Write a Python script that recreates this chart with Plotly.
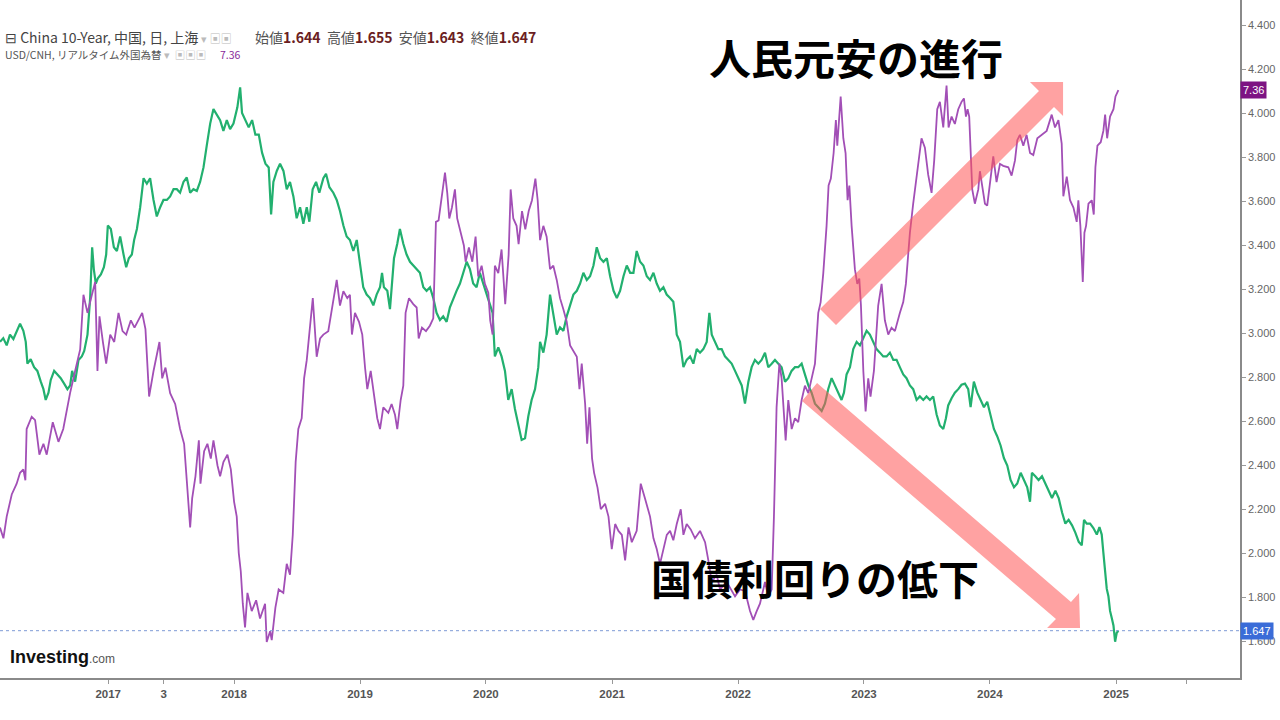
import plotly.graph_objects as go
import pandas as pd

# USD/CNH (purple, hidden scale) - time as decimal year
cnh_year = [
    2016.143, 2016.170, 2016.196, 2016.236, 2016.275, 2016.302, 2016.328, 2016.344, 2016.354, 2016.394,
    2016.421, 2016.455, 2016.487, 2016.513, 2016.561, 2016.606, 2016.644, 2016.698, 2016.738, 2016.778,
    2016.804, 2016.836, 2016.871, 2016.897, 2016.915, 2016.931, 2016.958, 2016.984, 2017.016, 2017.048,
    2017.082, 2017.114, 2017.143, 2017.180, 2017.209, 2017.241, 2017.270, 2017.296, 2017.325, 2017.360,
    2017.407, 2017.429, 2017.455, 2017.492, 2017.532, 2017.571, 2017.603, 2017.624, 2017.637, 2017.651,
    2017.667, 2017.693, 2017.720, 2017.733, 2017.762, 2017.788, 2017.815, 2017.836, 2017.868, 2017.889,
    2017.915, 2017.947, 2017.974, 2018.000, 2018.021, 2018.037, 2018.053, 2018.069, 2018.087, 2018.106,
    2018.140, 2018.175, 2018.206, 2018.246, 2018.259, 2018.286, 2018.299, 2018.328, 2018.354, 2018.391,
    2018.418, 2018.444, 2018.466, 2018.489, 2018.510, 2018.537, 2018.556, 2018.577, 2018.625, 2018.643,
    2018.656, 2018.683,
    2018.709, 2018.748, 2018.788, 2018.815, 2018.841, 2018.868, 2018.899, 2018.920, 2018.936, 2018.960,
    2018.992, 2019.018, 2019.040, 2019.058, 2019.085, 2019.111, 2019.137, 2019.159, 2019.185, 2019.225,
    2019.251, 2019.278, 2019.296, 2019.323, 2019.344, 2019.362, 2019.389, 2019.423, 2019.450, 2019.466,
    2019.492, 2019.524, 2019.555, 2019.582, 2019.603, 2019.624, 2019.648, 2019.675, 2019.693, 2019.709,
    2019.730, 2019.754, 2019.772, 2019.799, 2019.825, 2019.839, 2019.865, 2019.892, 2019.918, 2019.939,
    2019.966, 2019.992, 2020.019, 2020.034, 2020.053, 2020.071, 2020.098, 2020.124, 2020.153, 2020.180,
    2020.196, 2020.217, 2020.243, 2020.259, 2020.286, 2020.312, 2020.339, 2020.365, 2020.392, 2020.410,
    2020.429, 2020.455, 2020.481, 2020.508, 2020.534, 2020.561, 2020.587, 2020.614, 2020.640, 2020.667,
    2020.693, 2020.720, 2020.741, 2020.759, 2020.786, 2020.802, 2020.820, 2020.841, 2020.857, 2020.884,
    2020.910, 2020.944, 2020.971, 2020.997, 2021.024, 2021.050, 2021.077, 2021.103, 2021.130,
    2021.156, 2021.195, 2021.227, 2021.261, 2021.301, 2021.328, 2021.354, 2021.380, 2021.434, 2021.460,
    2021.486, 2021.513, 2021.545, 2021.566, 2021.592, 2021.624, 2021.658, 2021.698, 2021.738, 2021.764,
    2021.791, 2021.830, 2021.857, 2021.910, 2021.976, 2022.015, 2022.055, 2022.095, 2022.121, 2022.148,
    2022.174, 2022.214, 2022.240, 2022.267, 2022.285, 2022.306, 2022.328, 2022.346, 2022.359, 2022.378,
    2022.399, 2022.426, 2022.452, 2022.478, 2022.505, 2022.531, 2022.558, 2022.584, 2022.611, 2022.637,
    2022.656, 2022.677, 2022.703, 2022.719, 2022.737, 2022.759, 2022.777, 2022.788, 2022.804, 2022.815,
    2022.836, 2022.854, 2022.870, 2022.884, 2022.902, 2022.928, 2022.947, 2022.963, 2022.976, 2022.995,
    2023.013, 2023.034, 2023.052, 2023.079, 2023.113, 2023.140, 2023.166, 2023.193, 2023.219, 2023.246,
    2023.285, 2023.312, 2023.333, 2023.365, 2023.391, 2023.418, 2023.457, 2023.484, 2023.510, 2023.537,
    2023.558, 2023.582, 2023.603,
    2023.630, 2023.656, 2023.672, 2023.696, 2023.722, 2023.749, 2023.775, 2023.794, 2023.810, 2023.823,
    2023.836, 2023.847, 2023.860, 2023.881, 2023.908, 2023.921, 2023.939, 2023.961, 2023.979, 2024.000,
    2024.027, 2024.053, 2024.080, 2024.106, 2024.146, 2024.172, 2024.199, 2024.217, 2024.238, 2024.265,
    2024.291, 2024.318, 2024.344, 2024.376, 2024.410, 2024.450, 2024.490, 2024.516, 2024.543, 2024.556,
    2024.569, 2024.582, 2024.609, 2024.635, 2024.662, 2024.688, 2024.701, 2024.717, 2024.728, 2024.736,
    2024.749, 2024.762, 2024.781, 2024.807, 2024.823, 2024.836, 2024.852, 2024.878, 2024.899, 2024.913,
    2024.929, 2024.952, 2024.979, 2024.995, 2025.018,
]
cnh_rate = [
    6.471, 6.449, 6.493, 6.538, 6.560, 6.582, 6.589, 6.567, 6.671, 6.696,
    6.689, 6.619, 6.641, 6.619, 6.685, 6.645, 6.671, 6.744, 6.789, 6.833,
    6.944, 6.907, 6.944, 6.970, 6.789, 6.900, 6.848, 6.804, 6.863, 6.848,
    6.907, 6.870, 6.863, 6.892, 6.877, 6.892, 6.907, 6.874, 6.737, 6.789,
    6.848, 6.774, 6.796, 6.744, 6.722, 6.671, 6.641, 6.567, 6.523, 6.471,
    6.530, 6.575, 6.648, 6.560, 6.626, 6.641, 6.611, 6.648, 6.597, 6.575,
    6.604, 6.619, 6.589, 6.523, 6.493, 6.419, 6.382, 6.316, 6.268, 6.338,
    6.301, 6.323, 6.286, 6.316, 6.238, 6.260, 6.242, 6.308, 6.345, 6.338,
    6.397, 6.375, 6.456, 6.604, 6.671, 6.693, 6.774, 6.811, 6.937, 6.863,
    6.818, 6.855,
    6.863, 6.870, 6.937, 6.974, 6.922, 6.951, 6.937, 6.944, 6.863, 6.907,
    6.889, 6.863, 6.796, 6.752, 6.789, 6.737, 6.693, 6.671, 6.715, 6.704,
    6.722, 6.700, 6.671, 6.730, 6.759, 6.907, 6.937, 6.925, 6.918, 6.855,
    6.877, 6.870, 6.881, 6.896, 7.092, 7.095, 7.136, 7.192, 7.151, 7.099,
    7.121, 7.158, 7.099, 7.070, 7.044, 7.011, 7.040, 7.011, 7.062, 6.981,
    7.003, 6.966, 6.948, 6.892, 6.863, 7.003, 6.988, 7.036, 6.925, 7.025,
    7.158, 7.099, 7.084, 7.047, 7.114, 7.077, 7.114, 7.136, 7.180, 7.136,
    7.055, 7.084, 7.062, 6.996, 7.003, 6.974, 6.937, 6.914, 6.889, 6.841,
    6.829, 6.818, 6.752, 6.804, 6.722, 6.641, 6.715, 6.611, 6.582, 6.552,
    6.508, 6.519, 6.493, 6.427, 6.478, 6.464, 6.456, 6.404, 6.471,
    6.441, 6.464, 6.560, 6.530, 6.493, 6.449, 6.427, 6.397, 6.456, 6.464,
    6.445, 6.478, 6.508, 6.456, 6.478, 6.467, 6.449, 6.464, 6.441, 6.404,
    6.360, 6.375, 6.345, 6.360, 6.331, 6.345, 6.342, 6.301, 6.283, 6.301,
    6.316, 6.360, 6.331, 6.345, 6.493, 6.715, 6.804, 6.774, 6.730, 6.648,
    6.730, 6.671, 6.693, 6.685, 6.730, 6.759, 6.744, 6.774, 6.804, 6.907,
    6.929, 6.988, 7.084, 7.166, 7.180, 7.232, 7.299, 7.247, 7.321, 7.347,
    7.262, 7.232, 7.136, 7.166, 7.084, 6.996, 6.966, 6.977, 6.922, 6.789,
    6.707, 6.774, 6.737, 6.789, 6.922, 6.966, 6.892, 6.863, 6.877, 6.870,
    6.907, 6.929, 6.966, 7.070, 7.129, 7.188, 7.262, 7.243, 7.188, 7.151,
    7.217, 7.321, 7.336,
    7.284, 7.369, 7.284, 7.306, 7.291, 7.321, 7.336, 7.343, 7.306, 7.321,
    7.306, 7.232, 7.158, 7.129, 7.158, 7.195, 7.169, 7.129, 7.125, 7.173,
    7.225, 7.173, 7.210, 7.206, 7.203, 7.186, 7.217, 7.258, 7.269, 7.247,
    7.269, 7.232, 7.228, 7.262, 7.269, 7.277, 7.310, 7.284, 7.299, 7.277,
    7.251, 7.144, 7.184, 7.136, 7.121, 7.092, 7.136, 7.084, 6.996, 6.970,
    7.070, 7.084, 7.129, 7.136, 7.107, 7.203, 7.247, 7.254, 7.277, 7.310,
    7.262, 7.306, 7.321, 7.347, 7.360,
]

# China 10-Year yield (green, right scale)
cn10_year = [
    2016.143, 2016.169, 2016.196, 2016.222, 2016.249, 2016.275, 2016.302, 2016.328, 2016.347, 2016.360,
    2016.386, 2016.413, 2016.439, 2016.466, 2016.487, 2016.505, 2016.527, 2016.545, 2016.572, 2016.598,
    2016.624, 2016.651, 2016.677, 2016.699, 2016.714, 2016.738, 2016.765, 2016.791, 2016.810, 2016.836,
    2016.857, 2016.873, 2016.886, 2016.902, 2016.918, 2016.942, 2016.966, 2016.984, 2016.997, 2017.021,
    2017.045, 2017.069, 2017.095, 2017.122, 2017.143, 2017.164, 2017.188, 2017.206, 2017.228, 2017.254,
    2017.281, 2017.307, 2017.333, 2017.360, 2017.386, 2017.413, 2017.439, 2017.466, 2017.492, 2017.519,
    2017.545, 2017.571, 2017.598, 2017.624, 2017.651, 2017.677, 2017.704, 2017.730, 2017.757, 2017.783,
    2017.810, 2017.836, 2017.862, 2017.889, 2017.915, 2017.942, 2017.968, 2017.995, 2018.026, 2018.048,
    2018.063, 2018.090, 2018.116, 2018.143, 2018.169, 2018.196, 2018.222, 2018.249, 2018.275, 2018.294,
    2018.312, 2018.339, 2018.365, 2018.392, 2018.418, 2018.444, 2018.471, 2018.497, 2018.524, 2018.550,
    2018.577, 2018.598, 2018.624, 2018.651, 2018.677,
    2018.709, 2018.730, 2018.757, 2018.788, 2018.815, 2018.841, 2018.868, 2018.894, 2018.920, 2018.947,
    2018.974, 2019.000, 2019.026, 2019.053, 2019.079, 2019.106, 2019.132, 2019.159, 2019.175, 2019.190,
    2019.217, 2019.238, 2019.254, 2019.270, 2019.296, 2019.317, 2019.344, 2019.370, 2019.397, 2019.423,
    2019.450, 2019.476, 2019.503, 2019.529, 2019.556, 2019.582, 2019.608, 2019.635, 2019.661, 2019.688,
    2019.714, 2019.741, 2019.767, 2019.794, 2019.820, 2019.847, 2019.873, 2019.899, 2019.926, 2019.952,
    2019.979, 2020.005, 2020.032, 2020.053, 2020.071, 2020.098, 2020.124, 2020.151, 2020.177, 2020.204,
    2020.230, 2020.257, 2020.283, 2020.310, 2020.336, 2020.362, 2020.389, 2020.415, 2020.429, 2020.455,
    2020.481, 2020.508, 2020.534, 2020.561, 2020.587, 2020.614, 2020.640, 2020.667, 2020.693, 2020.720,
    2020.746, 2020.772, 2020.799, 2020.825, 2020.852, 2020.878, 2020.905, 2020.931, 2020.958, 2020.984,
    2021.011, 2021.037, 2021.063, 2021.090, 2021.116, 2021.143,
    2021.169, 2021.195, 2021.222, 2021.248, 2021.275, 2021.301, 2021.328, 2021.354, 2021.380, 2021.407,
    2021.433, 2021.460, 2021.486, 2021.500, 2021.513, 2021.539, 2021.566, 2021.592, 2021.619, 2021.645,
    2021.672, 2021.698, 2021.724, 2021.751, 2021.772, 2021.791, 2021.817, 2021.843, 2021.870, 2021.896,
    2021.923, 2021.949, 2021.976, 2022.002, 2022.029, 2022.055, 2022.082, 2022.108, 2022.134, 2022.161,
    2022.187, 2022.214, 2022.240, 2022.267, 2022.293, 2022.320, 2022.346, 2022.373, 2022.399, 2022.425,
    2022.452, 2022.478, 2022.505, 2022.531, 2022.558, 2022.584, 2022.611, 2022.637, 2022.664, 2022.690,
    2022.716, 2022.743, 2022.769, 2022.796, 2022.822, 2022.841, 2022.862, 2022.889, 2022.915, 2022.942,
    2022.968, 2022.995, 2023.021, 2023.047, 2023.074, 2023.100, 2023.127, 2023.153, 2023.180, 2023.206,
    2023.233, 2023.259, 2023.285, 2023.312, 2023.338, 2023.365, 2023.391, 2023.418, 2023.444, 2023.471,
    2023.497, 2023.524, 2023.550, 2023.577, 2023.603,
    2023.630, 2023.651, 2023.669, 2023.696, 2023.722, 2023.749, 2023.775, 2023.802, 2023.828, 2023.847,
    2023.873, 2023.900, 2023.926, 2023.953, 2023.979, 2024.005, 2024.032, 2024.058, 2024.085, 2024.111,
    2024.138, 2024.164, 2024.191, 2024.217, 2024.244, 2024.270, 2024.296, 2024.318, 2024.333, 2024.360,
    2024.386, 2024.413, 2024.439, 2024.466, 2024.492, 2024.519, 2024.545, 2024.572, 2024.598, 2024.624,
    2024.651, 2024.677, 2024.704, 2024.728, 2024.746, 2024.767, 2024.794, 2024.820, 2024.847, 2024.868,
    2024.886, 2024.899, 2024.913, 2024.926, 2024.939, 2024.952, 2024.966, 2024.979, 2024.992, 2025.005,
    2025.018,
]
cn10_yield = [
    2.960, 2.977, 2.944, 2.993, 2.973, 3.010, 3.043, 3.010, 2.960, 2.861,
    2.881, 2.845, 2.828, 2.779, 2.745, 2.696, 2.729, 2.787, 2.828, 2.812,
    2.795, 2.770, 2.745, 2.762, 2.828, 2.779, 2.878, 2.894, 2.919, 2.993,
    3.159, 3.390, 3.291, 3.225, 3.249, 3.266, 3.299, 3.357, 3.489, 3.473,
    3.390, 3.373, 3.439, 3.357, 3.299, 3.340, 3.357, 3.423, 3.473, 3.572,
    3.704, 3.679, 3.704, 3.605, 3.530, 3.572, 3.605, 3.605, 3.621, 3.654,
    3.654, 3.638, 3.687, 3.707, 3.638, 3.654, 3.646, 3.687, 3.753, 3.853,
    3.952, 4.018, 3.993, 3.968, 3.919, 3.968, 3.927, 3.952, 4.026, 4.117,
    4.001, 3.968, 3.935, 3.968, 3.902, 3.902, 3.820, 3.770, 3.753, 3.539,
    3.687, 3.737, 3.770, 3.737, 3.654, 3.687, 3.621, 3.522, 3.572, 3.497,
    3.572, 3.506, 3.654, 3.687, 3.638,
    3.704, 3.724, 3.663, 3.638, 3.605, 3.555, 3.489, 3.439, 3.423, 3.373,
    3.423, 3.324, 3.208, 3.175, 3.159, 3.126, 3.175, 3.208, 3.274, 3.208,
    3.192, 3.109, 3.225, 3.340, 3.406, 3.473, 3.406, 3.357, 3.324, 3.307,
    3.291, 3.274, 3.208, 3.192, 3.208, 3.159, 3.092, 3.059, 3.076, 3.051,
    3.117, 3.159, 3.192, 3.225, 3.274, 3.324, 3.291, 3.225, 3.208, 3.274,
    3.225, 3.175, 3.126, 3.092, 2.894, 2.935, 2.894, 2.828, 2.696, 2.745,
    2.655, 2.588, 2.514, 2.522, 2.622, 2.696, 2.745, 2.845, 2.960, 2.911,
    2.993, 3.175, 3.076, 2.993, 3.026, 3.010, 3.076, 3.126, 3.175, 3.192,
    3.225, 3.274, 3.241, 3.258, 3.307, 3.390, 3.340, 3.324, 3.340, 3.258,
    3.192, 3.159, 3.192, 3.258, 3.307, 3.274,
    3.274, 3.373, 3.324, 3.307, 3.258, 3.241, 3.274, 3.225, 3.192, 3.208,
    3.175, 3.159, 3.142, 3.076, 2.993, 2.960, 2.845, 2.878, 2.894, 2.861,
    2.927, 2.911, 2.927, 2.960, 3.092, 2.993, 2.960, 2.927, 2.927, 2.894,
    2.878, 2.861, 2.828, 2.795, 2.762, 2.679, 2.779, 2.845, 2.878, 2.861,
    2.878, 2.911, 2.845, 2.861, 2.878, 2.861, 2.845, 2.779, 2.795, 2.828,
    2.845, 2.845, 2.861, 2.812, 2.762, 2.729, 2.679, 2.663, 2.646, 2.679,
    2.745, 2.795, 2.762, 2.729, 2.696, 2.729, 2.812, 2.845, 2.927, 2.960,
    2.944, 2.977, 3.010, 2.993, 2.960, 2.927, 2.911, 2.894, 2.894, 2.911,
    2.878, 2.878, 2.845, 2.812, 2.795, 2.762, 2.745, 2.696, 2.712, 2.696,
    2.712, 2.696, 2.712, 2.630, 2.580,
    2.564, 2.613, 2.671, 2.704, 2.729, 2.745, 2.765, 2.770, 2.745, 2.663,
    2.779, 2.729, 2.696, 2.663, 2.688, 2.622, 2.564, 2.531, 2.489, 2.432,
    2.398, 2.332, 2.299, 2.316, 2.365, 2.332, 2.299, 2.233, 2.365, 2.349,
    2.332, 2.349, 2.316, 2.283, 2.250, 2.283, 2.250, 2.184, 2.134, 2.151,
    2.126, 2.093, 2.051, 2.035, 2.151, 2.134, 2.134, 2.114, 2.084, 2.118,
    2.084, 2.002, 1.903, 1.837, 1.804, 1.737, 1.704, 1.671, 1.597, 1.638,
    1.647,
]

x_tick_years = [2017, 2017.44, 2018, 2019, 2020, 2021, 2022, 2023, 2024, 2025, 2025.56]
x_tick_labels = ['2017', '3', '2018', '2019', '2020', '2021', '2022', '2023', '2024', '2025', '']
y_ticks = [1.6, 1.8, 2.0, 2.2, 2.4, 2.6, 2.8, 3.0, 3.2, 3.4, 3.6, 3.8, 4.0, 4.2, 4.4]

last_yield = 1.647
last_cnh = 7.36


def to_date(t):
    y = int(t)
    a = pd.Timestamp(year=y, month=1, day=1)
    b = pd.Timestamp(year=y + 1, month=1, day=1)
    return a + (b - a) * (t - y)


GREEN = '#22b06f'
PURPLE = '#a24fb6'

fig = go.Figure()
fig.add_trace(go.Scatter(
    x=[to_date(t) for t in cnh_year], y=cnh_rate, yaxis='y2',
    mode='lines', line=dict(color=PURPLE, width=1.8), name='USD/CNH'))
fig.add_trace(go.Scatter(
    x=[to_date(t) for t in cn10_year], y=cn10_yield,
    mode='lines', line=dict(color=GREEN, width=2.2), name='China 10-Year'))

# plot area is 1240 x 678 px; helpers for paper positions of the hand-drawn arrows
W, H = 1240, 678


def path(points):
    s = 'M ' + ' L '.join(f'{x / W:.4f},{1 - y / H:.4f}' for x, y in points)
    return s + ' Z'


arrow_up = [(820, 309), (1039, 91), (1030, 82), (1063, 82), (1063, 116), (1054, 107), (836, 325)]
arrow_down = [(817, 383), (1071, 602), (1079, 593), (1080, 628), (1047, 628), (1056, 619), (802, 401)]
pink = 'rgba(255,85,85,0.55)'

fig.update_layout(
    width=1280, height=720,
    margin=dict(l=0, r=40, t=0, b=42),
    paper_bgcolor='white', plot_bgcolor='white',
    showlegend=False,
    font=dict(family='Noto Sans CJK JP, Liberation Sans, sans-serif'),
    xaxis=dict(
        type='date',
        range=[to_date(2016.143), to_date(2025.984)],
        tickvals=[to_date(t) for t in x_tick_years], ticktext=x_tick_labels,
        showgrid=False, zeroline=False,
        showline=True, linecolor='#8a8a8a', linewidth=1.5,
        ticks='outside', ticklen=4, tickcolor='#999',
        tickfont=dict(family='Liberation Sans Narrow, Liberation Sans', size=11.5, color='#555', weight='bold'),
    ),
    yaxis=dict(
        side='right', range=[1.432, 4.514],
        tickvals=y_ticks, ticktext=[f'{v:.3f}' for v in y_ticks],
        showgrid=False, zeroline=False,
        showline=True, linecolor='#8a8a8a', linewidth=1.5,
        ticks='outside', ticklen=4, tickcolor='#999',
        tickfont=dict(family='Liberation Sans', size=11, color='#666'),
    ),
    yaxis2=dict(overlaying='y', range=[6.165, 7.543], visible=False),
    shapes=[
        dict(type='line', xref='paper', x0=0, x1=1, yref='y', y0=last_yield, y1=last_yield,
             line=dict(color='#7e9ad6', width=1, dash='dot')),
        dict(type='path', xref='paper', yref='paper', path=path(arrow_up),
             fillcolor=pink, line=dict(width=0)),
        dict(type='path', xref='paper', yref='paper', path=path(arrow_down),
             fillcolor=pink, line=dict(width=0)),
    ],
)

ohlc = ("<span style='color:#555'>始値</span><b style='color:#6b1e22'>1.644</b>  "
        "<span style='color:#555'>高値</span><b style='color:#6b1e22'>1.655</b>  "
        "<span style='color:#555'>安値</span><b style='color:#6b1e22'>1.643</b>  "
        "<span style='color:#555'>終値</span><b style='color:#6b1e22'>1.647</b>")

notes = [
    dict(x=3 / W, y=1 - 37 / H, text="⊟ China 10-Year, 中国, 日, 上海 <span style='color:#bbb;font-size:11px'>▾ ▣▣</span>",
         font=dict(size=14, color='#444')),
    dict(x=253 / W, y=1 - 37 / H, text=ohlc, font=dict(size=14, color='#555')),
    dict(x=3 / W, y=1 - 55 / H, text="USD/CNH, リアルタイム外国為替 <span style='color:#bbb'>▾  ▣▣▣</span>",
         font=dict(size=10.5, color='#555')),
    dict(x=218 / W, y=1 - 55 / H, text='7.36', font=dict(size=10.5, color='#8a2a9a')),
    dict(x=8 / W, y=1 - 657 / H,
         text="<b>Investing</b><span style='font-size:12px;color:#555'>.com</span>",
         font=dict(family='Liberation Sans', size=18, color='#111')),
    dict(x=856 / W, y=1 - 56 / H, xanchor='center', text='<b>人民元安の進行</b>',
         font=dict(size=42, color='#000')),
    dict(x=815 / W, y=1 - 577 / H, xanchor='center', text='<b>国債利回りの低下</b>',
         font=dict(size=41, color='#000')),
]
for n in notes:
    fig.add_annotation(xref='paper', yref='paper', xanchor=n.pop('xanchor', 'left'), yanchor='middle',
                       showarrow=False, **n)

# last-value price tags on the right scale
fig.add_annotation(xref='paper', x=1, xanchor='left', yref='y2', y=last_cnh, yanchor='middle',
                   text=f'{last_cnh:.2f}', showarrow=False, bgcolor='#7d1483', borderpad=2,
                   font=dict(family='Liberation Sans', size=11, color='white'))
fig.add_annotation(xref='paper', x=1, xanchor='left', yref='y', y=last_yield, yanchor='middle',
                   text=f'{last_yield:.3f}', showarrow=False, bgcolor='#3a6cd8', borderpad=2,
                   font=dict(family='Liberation Sans', size=11, color='white'))

# the page body has a default 8px margin; drop it so the figure fills the window
fig.write_html('out.html', config={'displayModeBar': False},
               post_script="document.body.style.margin='0';")
